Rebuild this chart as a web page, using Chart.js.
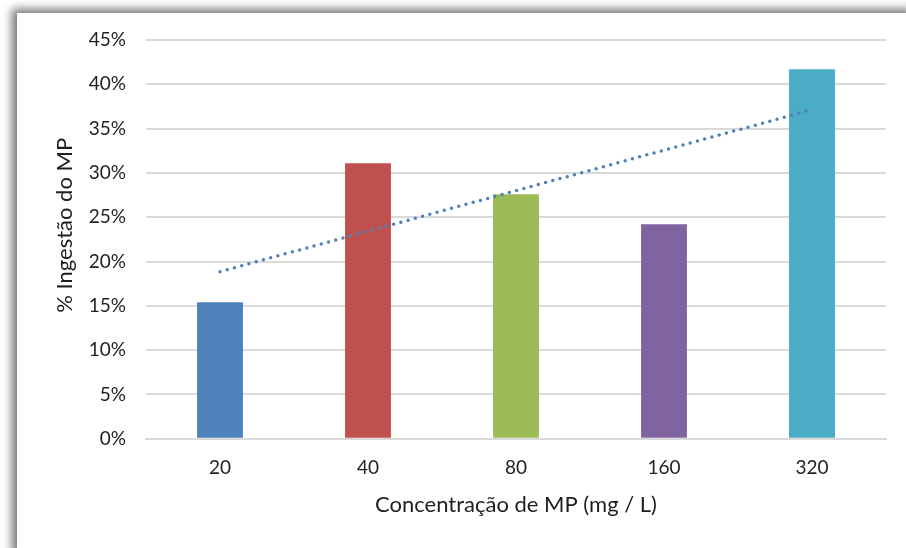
<!DOCTYPE html>
<html>
<head>
<meta charset="utf-8">
<script src="https://cdn.jsdelivr.net/npm/chart.js@4.4.1/dist/chart.umd.min.js"></script>
<style>
    html, body { margin: 0; padding: 0; background: #fff; overflow: hidden; }
    #frame {
        position: absolute;
        left: 17px;
        top: 13px;
        width: 900px;
        height: 545px;
        background: #fff;
        box-shadow: -5px -4px 9px rgba(0, 0, 0, 0.55);
    }
    #chart-box { position: absolute; left: 0; top: 0; width: 889px; height: 535px; }
</style>
</head>
<body>
<div id="frame">
    <div id="chart-box"><canvas id="ingestChart"></canvas></div>
</div>
<script>
const categories = ['20', '40', '80', '160', '320'];
const ingestion = [15.4, 31.1, 27.6, 24.2, 41.7];
const barColors = ['#4F81BD', '#C0504D', '#9BBB59', '#8064A2', '#4BACC6'];
const yTicks = [0, 5, 10, 15, 20, 25, 30, 35, 40, 45];

// linear trendline over the category index, like the spreadsheet does it
function linearTrend(values) {
    const n = values.length;
    const xs = values.map((v, i) => i + 1);
    const mx = xs.reduce((a, b) => a + b, 0) / n;
    const my = values.reduce((a, b) => a + b, 0) / n;
    let num = 0, den = 0;
    xs.forEach((x, i) => {
        num += (x - mx) * (values[i] - my);
        den += (x - mx) * (x - mx);
    });
    const slope = num / den;
    return xs.map(x => my + slope * (x - mx));
}

const textColor = '#1f1f1f';
const fontFamily = 'Lato, "Open Sans", sans-serif';

new Chart(document.getElementById('ingestChart').getContext('2d'), {
    data: {
        labels: categories,
        datasets: [
            {
                type: 'line',
                data: linearTrend(ingestion),
                borderColor: '#4F81BD',
                borderWidth: 3.5,
                borderDash: [0, 7.5],
                borderCapStyle: 'round',
                pointRadius: 0,
                fill: false,
                order: 0
            },
            {
                type: 'bar',
                data: ingestion,
                backgroundColor: barColors,
                borderWidth: 0,
                barPercentage: 0.31,
                categoryPercentage: 1,
                order: 1
            }
        ]
    },
    options: {
        responsive: true,
        maintainAspectRatio: false,
        animation: false,
        layout: { padding: { left: 20, right: 20, top: 27, bottom: 30 } },
        plugins: {
            legend: { display: false },
            tooltip: { enabled: false }
        },
        scales: {
            x: {
                grid: { display: false, drawTicks: false },
                border: { color: '#D9D9D9', width: 2 },
                ticks: {
                    color: textColor,
                    font: { family: fontFamily, size: 19 },
                    padding: 18
                },
                title: {
                    display: true,
                    text: 'Concentração de MP (mg / L)',
                    color: textColor,
                    font: { family: fontFamily, size: 22 },
                    padding: { top: -6, bottom: 0 }
                }
            },
            y: {
                min: 0,
                max: 45,
                afterBuildTicks: (scale) => {
                    scale.ticks = yTicks.map(v => ({ value: v }));
                },
                afterFit: (scale) => {
                    scale.width = 109;
                    // tick padding would otherwise push the plot top down
                    scale.paddingTop = 0;
                    scale.paddingBottom = 0;
                },
                grid: { color: '#D9D9D9', lineWidth: 2, drawTicks: false },
                border: { display: false },
                ticks: {
                    color: textColor,
                    font: { family: fontFamily, size: 19 },
                    padding: 20,
                    callback: (v) => v + '%'
                },
                title: {
                    display: true,
                    // leading spaces nudge the rotated title up a little, as in the original
                    text: '     % Ingestão do MP',
                    color: textColor,
                    font: { family: fontFamily, size: 22 },
                    padding: { top: 15, bottom: 0 }
                }
            }
        }
    }
});
</script>
</body>
</html>
